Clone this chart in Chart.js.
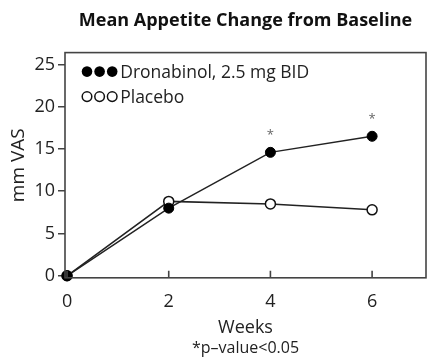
<!DOCTYPE html>
<html>
<head>
<meta charset="utf-8">
<script src="https://cdn.jsdelivr.net/npm/chart.js@4"></script>
<style>
html,body{margin:0;padding:0;background:#fff;}
#wrap{width:438px;height:360px;}
</style>
</head>
<body>
<div id="wrap"><canvas id="c" width="438" height="360"></canvas></div>
<script>
const weeks = [0, 2, 4, 6];
const dronabinol = [0, 8.0, 14.6, 16.5];
const placebo = [0, 8.8, 8.5, 7.8];
const significant = [false, false, true, true];
const xTicks = [0, 2, 4, 6];
const yTicks = [0, 5, 10, 15, 20, 25];
const seriesNames = ['Dronabinol, 2.5 mg BID', 'Placebo'];

const FONT = '"Open Sans", "DejaVu Sans", sans-serif';
const INK = '#222';

const boxPlugin = {
  id: 'boxPlugin',
  afterDatasetsDraw(chart) {
    const {ctx, chartArea: a, scales} = chart;
    ctx.save();
    ctx.strokeStyle = '#444';
    ctx.lineWidth = 1.6;
    ctx.strokeRect(a.left, a.top, a.right - a.left, a.bottom - a.top);
    // inward x ticks
    const xs = scales.x;
    ctx.beginPath();
    xs.ticks.forEach(t => {
      const px = xs.getPixelForValue(t.value);
      if (px > a.left + 2) {
        ctx.moveTo(px, a.bottom);
        ctx.lineTo(px, a.bottom - 7);
      }
    });
    ctx.stroke();
    // significance asterisks
    const meta = chart.getDatasetMeta(0);
    ctx.fillStyle = '#666';
    ctx.font = '13px ' + FONT;
    ctx.textAlign = 'center';
    ctx.textBaseline = 'middle';
    meta.data.forEach((pt, i) => {
      if (significant[i]) ctx.fillText('*', pt.x, pt.y - 17);
    });
    // legend
    const lx = a.left + 22, ly1 = a.top + 19, ly2 = a.top + 44;
    const r = 5.3, gap = 12.6;
    ctx.lineWidth = 1.5;
    for (let k = 0; k < 3; k++) {
      ctx.beginPath();
      ctx.arc(lx + k * gap, ly1, r, 0, Math.PI * 2);
      ctx.fillStyle = '#000';
      ctx.fill();
      ctx.beginPath();
      ctx.arc(lx + k * gap, ly2, r - 0.5, 0, Math.PI * 2);
      ctx.fillStyle = '#fff';
      ctx.fill();
      ctx.strokeStyle = '#111';
      ctx.stroke();
    }
    ctx.fillStyle = INK;
    ctx.font = '17.5px ' + FONT;
    ctx.textAlign = 'left';
    ctx.fillText(seriesNames[0], lx + 2 * gap + 8, ly1 + 1);
    ctx.fillText(seriesNames[1], lx + 2 * gap + 8, ly2 + 1);
    ctx.restore();
  }
};

new Chart(document.getElementById('c'), {
  type: 'line',
  data: {
    datasets: [
      {
        label: seriesNames[0],
        data: weeks.map((w, i) => ({x: w, y: dronabinol[i]})),
        borderColor: INK, borderWidth: 1.5,
        pointRadius: 5, pointBackgroundColor: '#000', pointBorderColor: '#000', pointBorderWidth: 1,
        tension: 0, clip: false
      },
      {
        label: seriesNames[1],
        data: weeks.map((w, i) => ({x: w, y: placebo[i]})),
        borderColor: INK, borderWidth: 1.5,
        pointRadius: 5, pointBackgroundColor: '#fff', pointBorderColor: '#111', pointBorderWidth: 1.5,
        tension: 0, clip: false
      }
    ]
  },
  options: {
    responsive: false,
    animation: false,
    devicePixelRatio: 1,
    layout: {padding: {left: 0, right: 12, top: 0, bottom: 0}},
    plugins: {
      legend: {display: false},
      tooltip: {enabled: false},
      title: {
        display: true,
        text: 'Mean Appetite Change from Baseline',
        fullSize: false,
        color: '#111',
        font: {family: FONT, size: 18, weight: 'bold'},
        padding: {top: 10, bottom: 21}
      },
      subtitle: {
        display: true,
        position: 'bottom',
        text: '*p\u2013value<0.05',
        fullSize: false,
        color: INK,
        font: {family: FONT, size: 16},
        padding: {top: 0, bottom: 2}
      }
    },
    scales: {
      x: {
        type: 'linear',
        min: -0.04, max: 7.06,
        afterBuildTicks: s => { s.ticks = xTicks.map(v => ({value: v})); },
        afterFit: s => { s.height = 61; },
        grid: {display: false},
        border: {display: false},
        ticks: {color: INK, padding: 5, font: {family: FONT, size: 18}},
        title: {display: true, text: 'Weeks', color: INK, font: {family: FONT, size: 18}, padding: {top: 0, bottom: 0}}
      },
      y: {
        type: 'linear',
        min: -0.24, max: 26.4,
        afterBuildTicks: s => { s.ticks = yTicks.map(v => ({value: v})); },
        afterFit: s => { s.width = 65; },
        grid: {drawOnChartArea: false, drawTicks: true, tickLength: 7, color: '#444', lineWidth: 1.5},
        border: {display: false},
        ticks: {color: INK, padding: 3, font: {family: FONT, size: 18}},
        title: {display: true, text: 'mm VAS', color: INK, font: {family: FONT, size: 19}, padding: {top: 7, bottom: 0}}
      }
    }
  },
  plugins: [boxPlugin]
});
</script>
</body>
</html>
